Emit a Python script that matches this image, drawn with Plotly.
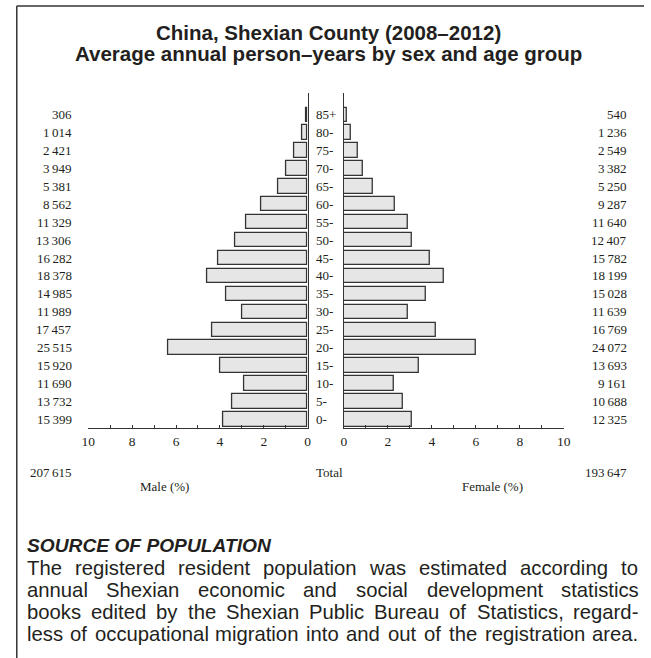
import plotly.graph_objects as go

# ---------------- data ----------------
age_groups = ["0-", "5-", "10-", "15-", "20-", "25-", "30-", "35-", "40-",
              "45-", "50-", "55-", "60-", "65-", "70-", "75-", "80-", "85+"]
male_counts = [15399, 13732, 11690, 15920, 25515, 17457, 11989, 14985, 18378,
               16282, 13306, 11329, 8562, 5381, 3949, 2421, 1014, 306]
female_counts = [12325, 10688, 9161, 13693, 24072, 16769, 11639, 15028, 18199,
                 15782, 12407, 11640, 9287, 5250, 3382, 2549, 1236, 540]
x_ticks = [0, 2, 4, 6, 8, 10]
title_lines = ["China, Shexian County (2008\u20132012)",
               "Average annual person\u2013years by sex and age group"]
source_heading = "SOURCE OF POPULATION"
source_lines = [
    "The registered resident population was estimated according to",
    "annual Shexian economic and social development statistics",
    "books edited by the Shexian Public Bureau of Statistics, regard-",
    "less of occupational migration into and out of the registration area.",
]

# ---------------- derived ----------------
total_m = sum(male_counts)
total_f = sum(female_counts)
grand = total_m + total_f
male_pct = [c / grand * 100 for c in male_counts]
female_pct = [c / grand * 100 for c in female_counts]
rows = list(range(len(age_groups)))


def fmt(n):
    return f"{n:,}".replace(",", "\u2009")


W, H = 651, 658


def px(x):
    return x / W


def py(y):
    return 1 - y / H


SERIF = "Liberation Serif, Times New Roman, serif"
SANS = "Liberation Sans, Arial, sans-serif"
INK = "#231f20"
EDGE = "#333333"
FILL = "#e6e6e6"
SERIF_SIZE = 13

fig = go.Figure()
fig.add_trace(go.Bar(x=male_pct, y=rows, orientation="h", xaxis="x", yaxis="y",
                     width=0.8, marker=dict(color=FILL, line=dict(color=EDGE, width=1.3)),
                     showlegend=False, hoverinfo="skip"))
fig.add_trace(go.Bar(x=female_pct, y=rows, orientation="h", xaxis="x2", yaxis="y2",
                     width=0.8, marker=dict(color=FILL, line=dict(color=EDGE, width=1.3)),
                     showlegend=False, hoverinfo="skip"))

ydom = [py(428.3), py(93)]
yrange = [-0.5, 18.21]
xcommon = dict(showline=True, linecolor=EDGE, linewidth=1, ticks="inside", ticklen=3,
               tickcolor=EDGE, tickwidth=1, tickmode="array", tickvals=x_ticks,
               ticktext=[str(v) for v in x_ticks],
               tickfont=dict(family=SERIF, size=13.5, color=INK),
               minor=dict(tick0=0, dtick=1, ticks="inside", ticklen=3, tickcolor=EDGE),
               showgrid=False, zeroline=False, fixedrange=True)
ycommon = dict(domain=ydom, range=yrange, showline=True, linecolor=EDGE, linewidth=1,
               showticklabels=False, ticks="", showgrid=False, zeroline=False,
               fixedrange=True)

fig.update_layout(
    width=W, height=H, margin=dict(l=0, r=0, t=0, b=0),
    paper_bgcolor="white", plot_bgcolor="rgba(0,0,0,0)",
    xaxis=dict(domain=[px(83), px(307.3)], range=[10, 0], anchor="y", **xcommon),
    yaxis=dict(anchor="x", side="right", **ycommon),
    xaxis2=dict(domain=[px(344.3), px(569)], range=[0, 10], anchor="y2", **xcommon),
    yaxis2=dict(anchor="x2", side="left", **ycommon),
    bargap=0,
)

sfont = dict(family=SERIF, size=SERIF_SIZE, color=INK)
ann = []
for i, g in enumerate(age_groups):
    ann.append(dict(x=px(68), y=i, xref="paper", yref="y", text=fmt(male_counts[i]),
                    xanchor="right", yanchor="middle", showarrow=False, font=sfont))
    ann.append(dict(x=px(636), y=i, xref="paper", yref="y", text=fmt(female_counts[i]),
                    xanchor="right", yanchor="middle", showarrow=False, font=sfont))
    ann.append(dict(x=px(314), y=i, xref="paper", yref="y", text=g,
                    xanchor="left", yanchor="middle", showarrow=False, font=sfont))

ann.append(dict(x=px(68), y=py(472), xref="paper", yref="paper", text=fmt(total_m),
                xanchor="right", yanchor="middle", showarrow=False, font=sfont))
ann.append(dict(x=px(314), y=py(472), xref="paper", yref="paper", text="Total",
                xanchor="left", yanchor="middle", showarrow=False, font=sfont))
ann.append(dict(x=px(636), y=py(472), xref="paper", yref="paper", text=fmt(total_f),
                xanchor="right", yanchor="middle", showarrow=False, font=sfont))
ann.append(dict(x=px(161), y=py(487), xref="paper", yref="paper", text="Male (%)",
                xanchor="center", yanchor="middle", showarrow=False, font=sfont))
ann.append(dict(x=px(496), y=py(487), xref="paper", yref="paper", text="Female (%)",
                xanchor="center", yanchor="middle", showarrow=False, font=sfont))

# title
for t, yy in zip(title_lines, [32, 53]):
    ann.append(dict(x=px(329), y=py(yy), xref="paper", yref="paper", text=f"<b>{t}</b>",
                    xanchor="center", yanchor="middle", showarrow=False,
                    font=dict(family=SANS, size=20.5, color=INK)))

# source text with justified lines (Arial / Liberation Sans metrics)
AW = {' ': 278, ',': 278, '-': 333, '.': 278,
      'A': 667, 'B': 667, 'P': 667, 'S': 667, 'T': 611,
      'a': 556, 'b': 556, 'c': 500, 'd': 556, 'e': 556, 'f': 278, 'g': 556, 'h': 556,
      'i': 222, 'j': 222, 'k': 500, 'l': 222, 'm': 833, 'n': 556, 'o': 556, 'p': 556,
      'q': 556, 'r': 333, 's': 500, 't': 278, 'u': 556, 'v': 500, 'w': 722, 'x': 500,
      'y': 500, 'z': 500}


def em(s):
    return sum(AW.get(ch, 556) for ch in s) / 1000.0


LEFT, RIGHT = 20, 644
src_size = 20.3
line_y = [567.5, 589.5, 611.5, 633.5]
for line, yy in zip(source_lines, line_y):
    words = line.split(" ")
    wsum = sum(em(w) for w in words) * src_size
    gap = (RIGHT - LEFT - wsum) / (len(words) - 1)
    xcur = LEFT
    for w in words:
        ann.append(dict(x=px(xcur), y=py(yy), xref="paper", yref="paper", text=w,
                        xanchor="left", yanchor="middle", showarrow=False,
                        borderpad=0, borderwidth=0,
                        font=dict(family=SANS, size=src_size, color=INK)))
        xcur += em(w) * src_size + gap

ann.append(dict(x=px(LEFT), y=py(545.5), xref="paper", yref="paper",
                text=f"<b><i>{source_heading}</i></b>", xanchor="left", yanchor="middle",
                showarrow=False, borderpad=0, borderwidth=0,
                font=dict(family=SANS, size=19.2, color=INK)))

fig.update_layout(annotations=ann)

# frame (top and left edges)
fig.add_shape(type="line", xref="paper", yref="paper", x0=px(10), y0=py(6), x1=1, y1=py(6),
              line=dict(color=EDGE, width=1.5))
fig.add_shape(type="line", xref="paper", yref="paper", x0=px(10), y0=py(6), x1=px(10), y1=0,
              line=dict(color=EDGE, width=1.5))

fig.write_html("out.html", config={"displayModeBar": False},
               post_script="document.body.style.margin='0';document.body.style.padding='0';")
